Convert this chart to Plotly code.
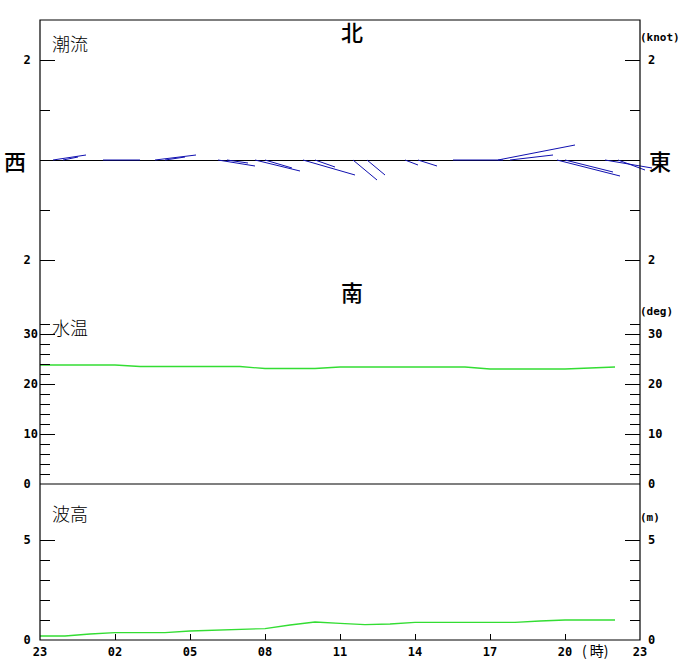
import plotly.graph_objects as go

# ---------------- data ----------------
hours = list(range(24))
hour_ticks = [0, 3, 6, 9, 12, 15, 18, 21, 24]
hour_labels = ["23", "02", "05", "08", "11", "14", "17", "20", "23"]

water_temp = [23.8, 23.8, 23.8, 23.8, 23.5, 23.5, 23.5, 23.5, 23.5, 23.1, 23.1, 23.1,
              23.4, 23.4, 23.4, 23.4, 23.4, 23.4, 23.0, 23.0, 23.0, 23.0, 23.2, 23.4]
wave_height = [0.20, 0.20, 0.30, 0.37, 0.37, 0.37, 0.45, 0.50, 0.55, 0.57, 0.75, 0.90,
               0.83, 0.77, 0.80, 0.88, 0.88, 0.88, 0.88, 0.88, 0.95, 1.00, 1.00, 1.00]

# tidal current sticks (time in hours, east / north components in knots)
stick_hours = [0.52, 0.92, 2.52, 4.60, 5.00, 7.12, 7.48, 8.60, 9.00, 10.52, 11.00,
               12.52, 13.08, 14.60, 15.12, 16.52, 18.32, 18.80, 20.68, 21.00, 22.60, 23.12]
stick_east = [0.66, 0.30, 0.74, 0.82, 0.40, 0.74, 0.42, 0.90, 0.54, 1.04, 0.40,
              0.48, 0.36, 0.26, 0.38, 1.00, 1.54, 0.86, 1.26, 0.96, 0.94, 0.54]
stick_north = [0.10, 0.06, 0.00, 0.10, 0.06, -0.12, -0.06, -0.22, -0.16, -0.30, -0.14,
               -0.40, -0.30, -0.10, -0.12, 0.00, 0.30, 0.10, -0.32, -0.24, -0.16, -0.20]

cur_ticks = [-2, 2]
cur_minor = [-1, 1]
temp_ticks = [0, 10, 20, 30]
temp_minor = [2, 4, 6, 8, 12, 14, 16, 18, 22, 24, 26, 28, 32]
wave_ticks = [0, 5]
wave_minor = [1, 2, 3, 4]

# ---------------- geometry helpers ----------------
W, H = 680, 660
L, T, B = 40, 20, 20
PW = W - L          # plot area width (extends to right edge)
PH = H - T - B
XR = 600 / PW       # domain end of the main time axis


def px(xp):
    return (xp - L) / PW


def py(yp):
    return (H - B - yp) / PH


cur_dom = [py(300), 1]
temp_dom = [py(484), py(300)]
wave_dom = [0, py(484)]

# stick segments in hour units (1 knot = 2 hours of horizontal span)
sx, sy = [], []
for t, u, v in zip(stick_hours, stick_east, stick_north):
    sx += [t, t + 2 * u, None]
    sy += [0, v, None]

fig = go.Figure()
# empty traces so that every axis pair gets its subplot (ticks, zero line)
for ya in ["y", "y2", "y4", "y6"]:
    fig.add_trace(go.Scatter(x=[None], y=[None], xaxis="x", yaxis=ya, mode="lines",
                             hoverinfo="skip", showlegend=False))
fig.add_trace(go.Scatter(x=sx, y=sy, mode="lines", xaxis="x2", yaxis="y7",
                         line=dict(color="#1010b0", width=1), hoverinfo="skip"))
fig.add_trace(go.Scatter(x=hours, y=water_temp, mode="lines", xaxis="x", yaxis="y3",
                         line=dict(color="#33dd33", width=1.3)))
fig.add_trace(go.Scatter(x=hours, y=wave_height, mode="lines", xaxis="x", yaxis="y5",
                         line=dict(color="#33dd33", width=1.3)))

tickfont = dict(family="DejaVu Sans Mono", size=12, color="black", weight="bold")


def yax(dom, rng, tv, tt, minor, side, overlay=None, zero=False):
    d = dict(domain=dom, range=rng, anchor="x", side=side, tickmode="array",
             tickvals=tv, ticktext=tt, ticks="inside", ticklen=15, tickwidth=1,
             tickcolor="black", showgrid=False, showline=False, zeroline=zero,
             zerolinecolor="black", zerolinewidth=1, tickfont=tickfont,
             fixedrange=True, automargin=False,
             minor=dict(tickmode="array", tickvals=minor, ticks="inside",
                        ticklen=10, tickwidth=1, tickcolor="black", showgrid=False),
             ticklabelstandoff=1 if side == "left" else 7)
    if overlay:
        d["overlaying"] = overlay
    return d


nb = "\u00a0"
cur_l = ["2" + nb, "2" + nb]
cur_r = ["2", "2"]
temp_l = ["0" + nb, "10", "20", "30"]
temp_r = ["0", "10", "20", "30"]
wave_l = ["0" + nb, "5" + nb]
wave_r = ["0", "5"]

fig.update_layout(
    width=W, height=H,
    margin=dict(l=L, r=0, t=T, b=B, pad=0, autoexpand=False),
    paper_bgcolor="white", plot_bgcolor="rgba(0,0,0,0)",
    showlegend=False,
    xaxis=dict(domain=[0, XR], range=[0, 24], anchor="y5", tickmode="array",
               tickvals=hour_ticks, ticktext=hour_labels, ticks="inside", ticklen=6,
               tickcolor="black", showgrid=False, showline=False, zeroline=False,
               tickfont=tickfont, fixedrange=True, automargin=False,
               ticklabelstandoff=3),
    xaxis2=dict(domain=[0, 1], range=[0, 24 * PW / 600], anchor="y7", visible=False,
                fixedrange=True, automargin=False),
    yaxis=yax(cur_dom, [-2.8, 2.8], cur_ticks, cur_l, cur_minor, "left", zero=True),
    yaxis2=yax(cur_dom, [-2.8, 2.8], cur_ticks, cur_r, cur_minor, "right", overlay="y"),
    yaxis3=yax(temp_dom, [0, 36.8], temp_ticks, temp_l, temp_minor, "left"),
    yaxis4=yax(temp_dom, [0, 36.8], temp_ticks, temp_r, temp_minor, "right", overlay="y3"),
    yaxis5=yax(wave_dom, [0, 7.8], wave_ticks, wave_l, wave_minor, "left"),
    yaxis6=yax(wave_dom, [0, 7.8], wave_ticks, wave_r, wave_minor, "right", overlay="y5"),
    yaxis7=dict(domain=cur_dom, range=[-2.8, 2.8], anchor="x2", visible=False,
                fixedrange=True, automargin=False),
)

# frame and panel divider
fig.add_shape(type="rect", xref="paper", yref="paper", x0=0, x1=XR, y0=0, y1=1,
              line=dict(color="black", width=1.2), layer="above")
fig.add_shape(type="line", xref="paper", yref="paper", x0=0, x1=XR, y0=py(484), y1=py(484),
              line=dict(color="black", width=1.2), layer="above")

cjk = "Noto Sans CJK JP"


def ann(text, xp, yp, size, family=cjk, weight="normal", xanchor="center"):
    fig.add_annotation(text=text, xref="paper", yref="paper", x=px(xp), y=py(yp),
                       xanchor=xanchor, yanchor="middle", showarrow=False,
                       font=dict(family=family, size=size, color="black", weight=weight))


ann("北", 352, 31, 22, weight=500)
ann("南", 352, 291, 22, weight=500)
ann("西", 15, 160, 22, weight=500)
ann("東", 660, 160, 22, weight=500)
ann("潮流", 50, 43, 18, xanchor="left", weight=300)
ann("水温", 50, 327, 18, xanchor="left", weight=300)
ann("波高", 50, 513, 18, xanchor="left", weight=300)
ann("(knot)", 638, 37, 11, family="DejaVu Sans Mono", weight="bold", xanchor="left")
ann("(deg)", 638, 311, 11, family="DejaVu Sans Mono", weight="bold", xanchor="left")
ann("(m)", 638, 517, 11, family="DejaVu Sans Mono", weight="bold", xanchor="left")
ann("( 時)", 580, 650, 14, xanchor="left")

fig.write_html("out.html", config={"displayModeBar": False},
               post_script="document.body.style.margin='0';document.body.style.overflow='hidden';")
